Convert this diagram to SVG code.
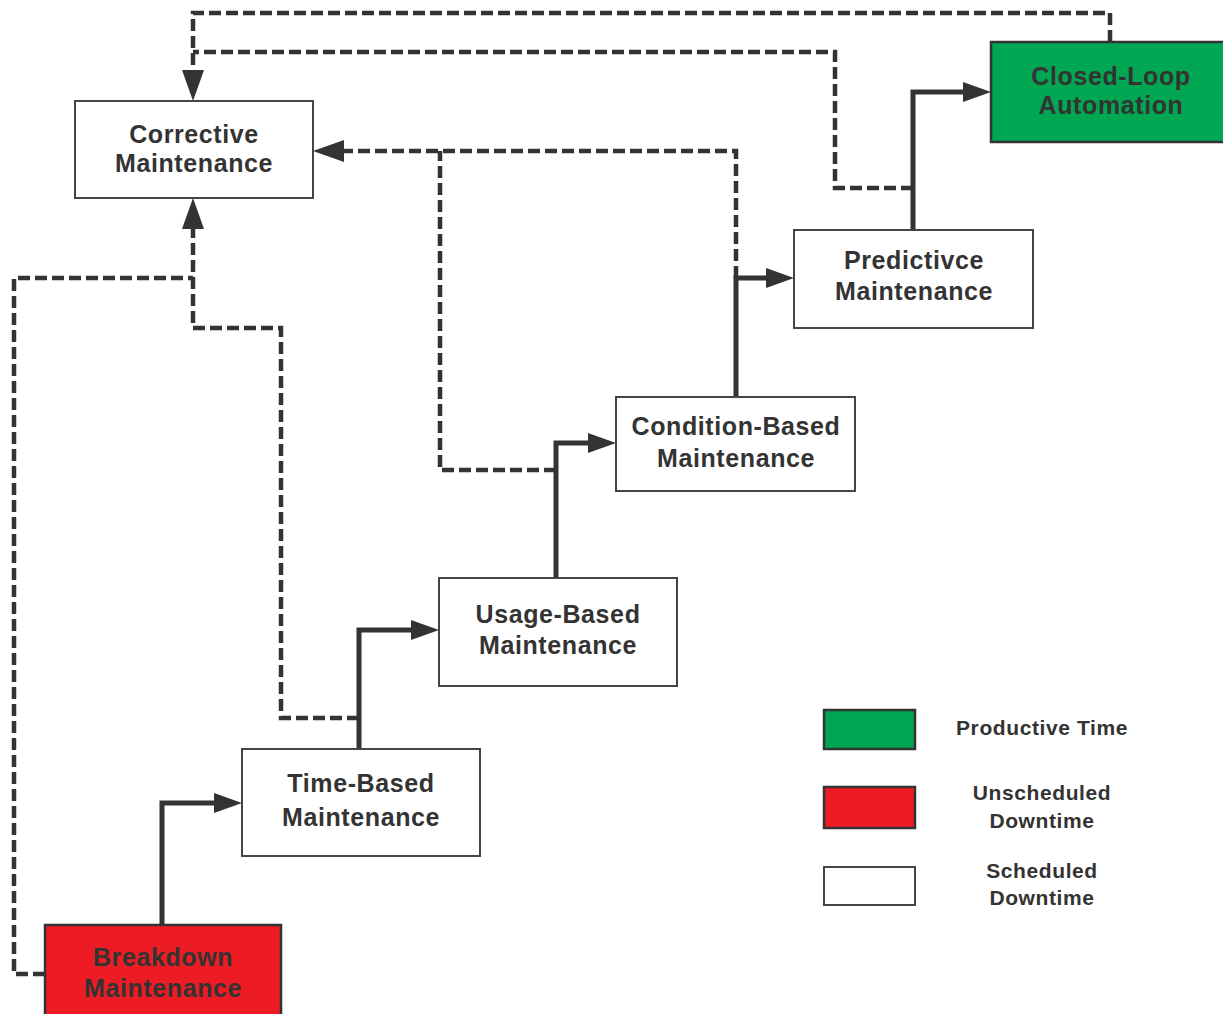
<svg xmlns="http://www.w3.org/2000/svg" width="1223" height="1014" viewBox="0 0 1223 1014">
  <style>
    .box { fill: #ffffff; stroke: #444444; stroke-width: 2; }
    .green { fill: #00A651; stroke: #333333; stroke-width: 2.5; }
    .red { fill: #ED1C24; stroke: #333333; stroke-width: 2.5; }
    .label { font-family: "Liberation Sans", Arial, sans-serif; font-weight: bold; font-size: 25px; letter-spacing: 0.6px; fill: #333333; text-anchor: middle; }
    .legend { font-family: "Liberation Sans", Arial, sans-serif; font-weight: bold; font-size: 21px; letter-spacing: 0.6px; fill: #333333; text-anchor: middle; }
    .solid { fill: none; stroke: #333333; stroke-width: 5; }
    .dash { fill: none; stroke: #333333; stroke-width: 4.5; stroke-dasharray: 12 5; }
  </style>
  <defs>
    <marker id="arrow" markerUnits="userSpaceOnUse" markerWidth="28" markerHeight="20" refX="0" refY="10" orient="auto">
      <path d="M0,0 L28,10 L0,20 Z" fill="#333333"/>
    </marker>
    <marker id="arrow-lg" markerUnits="userSpaceOnUse" markerWidth="31" markerHeight="22" refX="0" refY="11" orient="auto">
      <path d="M0,0 L31,11 L0,22 Z" fill="#333333"/>
    </marker>
  </defs>

  <rect width="1223" height="1014" fill="#ffffff"/>

  <!-- connectors -->
  <g id="connectors">
    <!-- progression (solid) -->
    <path class="solid" d="M162,925 V803 H214" marker-end="url(#arrow)"/>
    <path class="solid" d="M359,749 V630 H411" marker-end="url(#arrow)"/>
    <path class="solid" d="M556,578 V443 H588" marker-end="url(#arrow)"/>
    <path class="solid" d="M736,397 V278 H766" marker-end="url(#arrow)"/>
    <path class="solid" d="M913,230 V92 H963" marker-end="url(#arrow)"/>
    <!-- fallback paths to corrective maintenance (dashed) -->
    <path class="dash" d="M1110,42 V13 H193 V70" marker-end="url(#arrow-lg)"/>
    <path class="dash" d="M913,188 H835 V52 H193"/>
    <path class="dash" d="M736,278 V151 H344" marker-end="url(#arrow-lg)"/>
    <path class="dash" d="M556,470 H440 V151"/>
    <path class="dash" d="M359,718 H281 V328 H193 V229" marker-end="url(#arrow-lg)"/>
    <path class="dash" d="M45,974 H14 V278 H193"/>
  </g>

  <g id="corrective">
    <rect class="box" x="75" y="101" width="238" height="97"/>
    <text class="label" x="194" y="143">Corrective</text>
    <text class="label" x="194" y="172">Maintenance</text>
  </g>

  <g id="closed-loop">
    <rect class="green" x="991" y="42" width="240" height="100"/>
    <text class="label" x="1111" y="85">Closed-Loop</text>
    <text class="label" x="1111" y="114">Automation</text>
  </g>

  <g id="predictive">
    <rect class="box" x="794" y="230" width="239" height="98"/>
    <text class="label" x="914" y="269">Predictivce</text>
    <text class="label" x="914" y="300">Maintenance</text>
  </g>

  <g id="condition-based">
    <rect class="box" x="616" y="397" width="239" height="94"/>
    <text class="label" x="736" y="435">Condition-Based</text>
    <text class="label" x="736" y="467">Maintenance</text>
  </g>

  <g id="usage-based">
    <rect class="box" x="439" y="578" width="238" height="108"/>
    <text class="label" x="558" y="623">Usage-Based</text>
    <text class="label" x="558" y="654">Maintenance</text>
  </g>

  <g id="time-based">
    <rect class="box" x="242" y="749" width="238" height="107"/>
    <text class="label" x="361" y="792">Time-Based</text>
    <text class="label" x="361" y="826">Maintenance</text>
  </g>

  <g id="breakdown">
    <rect class="red" x="45" y="925" width="236" height="100"/>
    <text class="label" x="163" y="966">Breakdown</text>
    <text class="label" x="163" y="997">Maintenance</text>
  </g>

  <!-- legend -->
  <g id="legend">
    <rect class="green" x="824" y="710" width="91" height="39"/>
    <text class="legend" x="1042" y="735">Productive Time</text>
    <rect class="red" x="824" y="787" width="91" height="41"/>
    <text class="legend" x="1042" y="800">Unscheduled</text>
    <text class="legend" x="1042" y="828">Downtime</text>
    <rect class="box" x="824" y="867" width="91" height="38"/>
    <text class="legend" x="1042" y="878">Scheduled</text>
    <text class="legend" x="1042" y="905">Downtime</text>
  </g>
</svg>
